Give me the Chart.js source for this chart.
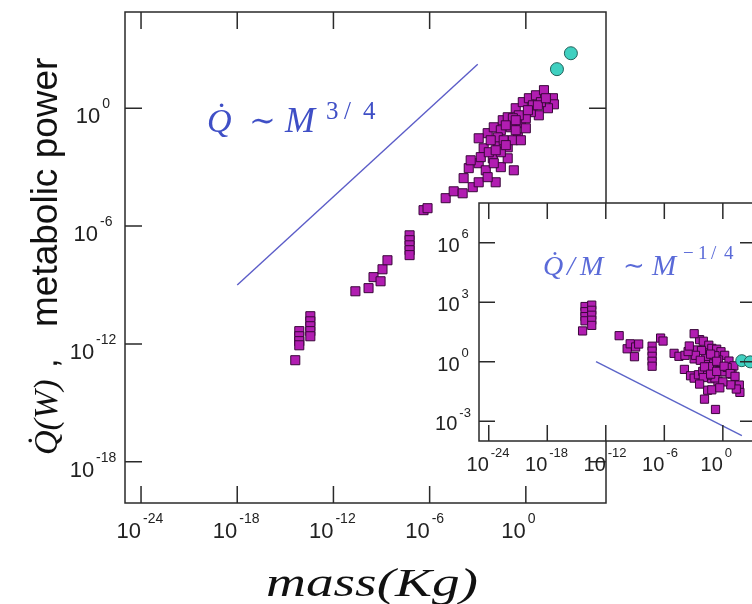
<!DOCTYPE html>
<html>
<head>
<meta charset="utf-8">
<script src="https://cdn.jsdelivr.net/npm/chart.js@4.4.0/dist/chart.umd.min.js"></script>
<style>
  html, body { margin: 0; padding: 0; background: #fff; overflow: hidden; }
  #wrap { position: relative; width: 752px; height: 604px; overflow: hidden; }
  #mainChart { position: absolute; left: 0; top: 0; }
  #insetChart { position: absolute; left: 400px; top: 190px; }
</style>
</head>
<body>
<div id="wrap">
  <canvas id="mainChart" width="752" height="604"></canvas>
  <canvas id="insetChart" width="400" height="300"></canvas>
</div>
<script>
// log10 of body mass (kg) and metabolic power (W)
const logMass = [
  -14.38, -14.13, -14.13, -14.13, -14.13, -13.44, -13.44, -13.44, -13.44, -13.44,
  -10.63, -9.81, -9.50, -9.06, -8.94, -8.63, -7.25, -7.25, -7.25, -7.25, -7.25,
  -6.38, -6.13, -5.00, -4.50, -3.94, -3.88, -3.31, -2.94, -2.94, -1.88, -2.50,
  -0.75, -1.56, -2.06, -1.13, -2.63, -2.38, -2.94, -1.75, -1.13, -0.50, -2.00,
  -1.44, -0.94, -0.31, -1.56, -1.13, -0.63, -0.19, 0.19, 0.63, 1.13, 1.69, 1.75,
  1.38, 0.81, 0.31, 0.00, -0.44, -0.81, 0.44, 0.94, -1.75, -2.19, -1.38, -0.81,
  -2.81, -2.31, -1.56, -2.00, -2.38, -1.88, -1.25, -0.63, 0.00, -1.25, -0.63,
  0.13, 0.75, 1.25, -0.31, -3.56, -3.44
];
const logPower = [
  -12.83, -11.35, -11.61, -11.86, -12.07, -10.59, -10.85, -11.10, -11.35, -11.61,
  -9.32, -9.16, -8.60, -8.81, -8.20, -7.74, -6.47, -6.72, -6.98, -7.23, -7.48,
  -5.19, -5.09, -4.58, -4.23, -4.33, -3.56, -4.02, -3.77, -2.80, -3.77, -3.16,
  -3.16, -3.00, -2.55, -2.55, -2.04, -1.27, -1.53, -1.78, -1.99, -1.48, -0.97,
  -0.61, -0.97, -0.76, -1.12, -0.46, 0.00, 0.31, 0.51, 0.66, 0.92, 0.51, 0.20,
  0.00, -0.36, -0.20, -0.51, -0.36, -0.51, 0.15, 0.31, -1.48, -1.63, -1.63, -1.63,
  -2.49, -2.24, -2.24, -2.80, -3.51, -2.14, -1.88, -1.12, -1.02, -0.87, -0.61,
  -0.10, 0.15, 0.51, -1.63, -3.05, -2.65
];
// the two large (cyan) animals
const bigMass = [1.94, 2.81];
const bigPower = [1.99, 2.80];

// guide lines, log10 endpoints
const fitMass = [-18, -3];
const fitPower = [-9.0, 2.24];
const insetFitMass = [-13, 1.95];
const insetFitRatio = [0, -3.73];

// tick exponents
const xTickExp = [-24, -18, -12, -6, 0];
const yTickExp = [0, -6, -12, -18];
const insetYTickExp = [6, 3, 0, -3];

const SANS = '"Liberation Sans", Arial, Helvetica, sans-serif';
const SERIF = '"Liberation Serif", "Times New Roman", serif';
const SQUARE_FILL = '#b11db1';
const SQUARE_EDGE = '#3a063a';
const CIRCLE_FILL = '#3fd0c0';
const CIRCLE_EDGE = '#23605a';

const pts = (xs, ys) => xs.map((v, i) => ({ x: 10 ** v, y: 10 ** ys[i] }));

// "10" with a superscript exponent
function powLabel(ctx, exp, x, y, mode, size, supSize) {
  ctx.font = size + 'px ' + SANS;
  const wBase = ctx.measureText('10').width;
  ctx.font = supSize + 'px ' + SANS;
  const sup = String(exp);
  const wSup = ctx.measureText(sup).width;
  const x0 = mode === 'tick' ? x - wBase : x - (wBase + 2 + wSup) / 2;
  ctx.textAlign = 'left';
  ctx.textBaseline = 'alphabetic';
  ctx.font = size + 'px ' + SANS;
  ctx.fillText('10', x0, y);
  ctx.font = supSize + 'px ' + SANS;
  ctx.fillText(sup, x0 + wBase + 2, y - size * 0.68);
}

function framePlugin(cfg) {
  return {
    id: 'frame',
    beforeDraw(chart) {
      const a = chart.chartArea;
      chart.ctx.save();
      chart.ctx.fillStyle = '#fff';
      chart.ctx.fillRect(a.left, a.top, a.right - a.left, a.bottom - a.top);
      chart.ctx.restore();
    },
    afterDraw(chart) {
      const { ctx, chartArea: a } = chart;
      const sx = chart.scales.x, sy = chart.scales.y;
      const L = cfg.tick;
      ctx.save();
      ctx.strokeStyle = '#2a2a2a';
      ctx.lineWidth = 1.5;
      ctx.strokeRect(a.left, a.top, a.right - a.left, a.bottom - a.top);
      ctx.beginPath();
      cfg.xTicks.forEach(e => {
        const px = sx.getPixelForValue(10 ** e);
        ctx.moveTo(px, a.bottom); ctx.lineTo(px, a.bottom - L);
        ctx.moveTo(px, a.top); ctx.lineTo(px, a.top + L);
      });
      cfg.yTicks.forEach(e => {
        const py = sy.getPixelForValue(10 ** e);
        ctx.moveTo(a.left, py); ctx.lineTo(a.left + L, py);
        ctx.moveTo(a.right, py); ctx.lineTo(a.right - L, py);
      });
      ctx.stroke();
      ctx.fillStyle = '#222';
      cfg.xTicks.forEach(e => {
        powLabel(ctx, e, sx.getPixelForValue(10 ** e), a.bottom + cfg.xLabelDy, 'tick', cfg.font, cfg.supFont);
      });
      cfg.yTicks.forEach(e => {
        powLabel(ctx, e, a.left - cfg.yLabelDx, sy.getPixelForValue(10 ** e) + cfg.yLabelDy, 'center', cfg.font, cfg.supFont);
      });
      ctx.restore();
      if (cfg.extra) cfg.extra(ctx, chart);
    }
  };
}

function putText(ctx, text, x, y, font) {
  ctx.font = font;
  ctx.fillText(text, x, y);
}

function mainTexts(ctx) {
  ctx.save();
  ctx.textAlign = 'left';
  ctx.textBaseline = 'alphabetic';

  // scaling law annotation
  ctx.fillStyle = '#3f4fc6';
  putText(ctx, 'Q\u0307', 207, 132, 'italic 34px ' + SERIF);
  putText(ctx, '\u223C', 249, 131, '32px "DejaVu Serif", serif');
  putText(ctx, 'M', 285, 132, 'italic 36px ' + SERIF);
  putText(ctx, '3', 326, 119, '25px ' + SERIF);
  putText(ctx, '/', 344, 119, '25px ' + SERIF);
  putText(ctx, '4', 363, 119, '25px ' + SERIF);

  // x title
  ctx.fillStyle = '#111';
  ctx.font = 'italic 40px ' + SERIF;
  const t = 'mass(Kg)';
  const w = ctx.measureText(t).width;
  ctx.save();
  ctx.translate(266, 596);
  ctx.scale(212 / w, 1);
  ctx.fillText(t, 0, 0);
  ctx.restore();

  // y title, rotated
  ctx.save();
  ctx.translate(57, 0);
  ctx.rotate(-Math.PI / 2);
  putText(ctx, 'Q\u0307(W)', -455, 0, 'italic 34px ' + SERIF);
  putText(ctx, ',', -368, 0, '34px ' + SANS);
  putText(ctx, 'metabolic power', -327, 0, '37px ' + SANS);
  ctx.restore();
  ctx.restore();
}

function insetTexts(ctx) {
  // canvas sits at (400,190) of the page
  ctx.save();
  ctx.translate(-400, -190);
  ctx.textAlign = 'left';
  ctx.textBaseline = 'alphabetic';
  ctx.fillStyle = '#5a6ad8';
  putText(ctx, 'Q\u0307', 543, 275, 'italic 28px ' + SERIF);
  putText(ctx, '/', 567, 275, 'italic 28px ' + SERIF);
  putText(ctx, 'M', 580, 275, 'italic 28px ' + SERIF);
  putText(ctx, '\u223C', 623, 274, '26px "DejaVu Serif", serif');
  putText(ctx, 'M', 652, 275, 'italic 29px ' + SERIF);
  putText(ctx, '\u2212', 683, 259, '19px ' + SERIF);
  putText(ctx, '1', 698, 259, '19px ' + SERIF);
  putText(ctx, '/', 711, 259, '19px ' + SERIF);
  putText(ctx, '4', 724, 259, '19px ' + SERIF);
  ctx.restore();
}

const squareStyle = {
  pointStyle: 'rect',
  backgroundColor: SQUARE_FILL,
  borderColor: SQUARE_EDGE,
  borderWidth: 1
};
const circleStyle = {
  pointStyle: 'circle',
  backgroundColor: CIRCLE_FILL,
  borderColor: CIRCLE_EDGE,
  borderWidth: 1
};

// main plot
new Chart(document.getElementById('mainChart'), {
  type: 'scatter',
  data: {
    datasets: [
      Object.assign({ data: pts(bigMass, bigPower), pointRadius: 6.5, order: 0 }, circleStyle),
      Object.assign({ data: pts(logMass, logPower), pointRadius: 6.4, order: 1 }, squareStyle),
      {
        data: pts(fitMass, fitPower),
        showLine: true, pointRadius: 0,
        borderColor: '#5b5cc8', borderWidth: 1.4, order: 2
      }
    ]
  },
  options: {
    responsive: false,
    animation: false,
    layout: { padding: { left: 125, top: 12, right: 146, bottom: 101 } },
    plugins: { legend: { display: false }, tooltip: { enabled: false } },
    scales: {
      x: { type: 'logarithmic', min: 1e-25, max: 1e5, display: false },
      y: { type: 'logarithmic', min: 10 ** -20.1, max: 10 ** 4.9, display: false }
    }
  },
  plugins: [framePlugin({
    tick: 17, xTicks: xTickExp, yTicks: yTickExp,
    font: 22, supFont: 14, xLabelDy: 35, yLabelDx: 32, yLabelDy: 15,
    extra: mainTexts
  })]
});

// inset: specific metabolic rate Q/M against M, same animals
const ratioExp = logPower.map((p, i) => p - logMass[i]);
const bigRatioExp = bigPower.map((p, i) => p - bigMass[i]);

new Chart(document.getElementById('insetChart'), {
  type: 'scatter',
  data: {
    datasets: [
      Object.assign({ data: pts(bigMass, bigRatioExp), pointRadius: 6, order: 0 }, circleStyle),
      Object.assign({ data: pts(logMass, ratioExp), pointRadius: 5.8, order: 1 }, squareStyle),
      {
        data: pts(insetFitMass, insetFitRatio),
        showLine: true, pointRadius: 0,
        borderColor: '#5b64c8', borderWidth: 1.4, order: 2
      }
    ]
  },
  options: {
    responsive: false,
    animation: false,
    layout: { padding: { left: 79, top: 13, right: 44, bottom: 49 } },
    plugins: { legend: { display: false }, tooltip: { enabled: false } },
    scales: {
      x: { type: 'logarithmic', min: 1e-25, max: 10 ** 3.4, display: false },
      y: { type: 'logarithmic', min: 1e-4, max: 1e8, display: false }
    }
  },
  plugins: [framePlugin({
    tick: 16, xTicks: xTickExp, yTicks: insetYTickExp,
    font: 20, supFont: 13, xLabelDy: 30, yLabelDx: 26, yLabelDy: 9,
    extra: insetTexts
  })]
});
</script>
</body>
</html>
